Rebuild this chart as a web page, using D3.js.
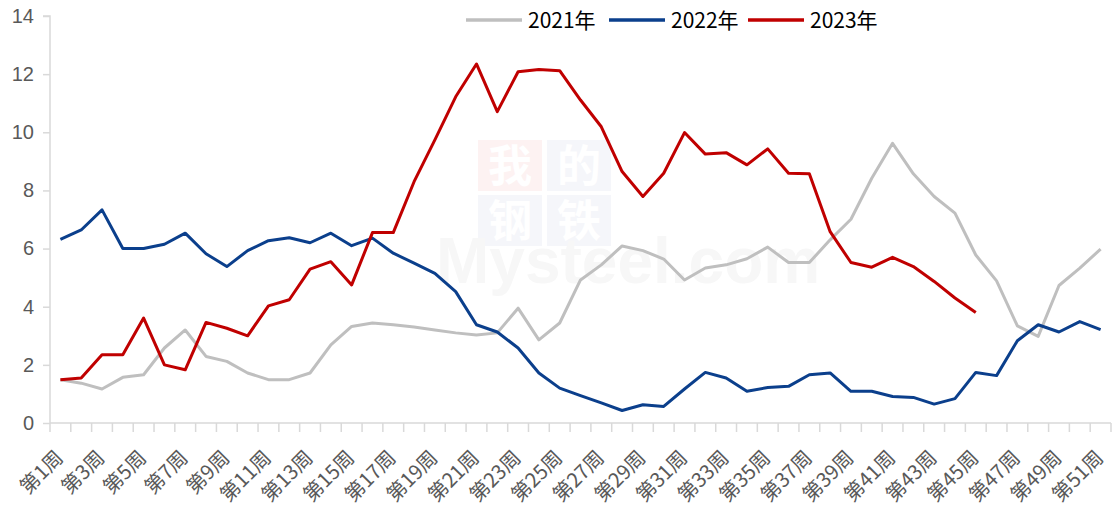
<!DOCTYPE html>
<html>
<head>
<meta charset="utf-8">
<script src="https://cdn.jsdelivr.net/npm/d3@7"></script>
<style>
    body { margin: 0; background: #fff; }
    svg { display: block; font-family: "Noto Sans CJK SC", "Noto Sans", sans-serif; }
</style>
</head>
<body>
<div id="chart"></div>
<script>
var weeks = ["第1周","第2周","第3周","第4周","第5周","第6周","第7周","第8周","第9周","第10周",
    "第11周","第12周","第13周","第14周","第15周","第16周","第17周","第18周","第19周","第20周",
    "第21周","第22周","第23周","第24周","第25周","第26周","第27周","第28周","第29周","第30周",
    "第31周","第32周","第33周","第34周","第35周","第36周","第37周","第38周","第39周","第40周",
    "第41周","第42周","第43周","第44周","第45周","第46周","第47周","第48周","第49周","第50周","第51周"];

var y2021 = [1.49, 1.37, 1.17, 1.57, 1.66, 2.58, 3.2, 2.29, 2.12, 1.72, 1.49, 1.49, 1.72, 2.69, 3.32, 3.44,
    3.38, 3.3, 3.2, 3.1, 3.03, 3.1, 3.95, 2.86, 3.44, 4.92, 5.44, 6.09, 5.93, 5.64, 4.92, 5.33, 5.44,
    5.65, 6.05, 5.52, 5.52, 6.3, 7.01, 8.42, 9.62, 8.57, 7.79, 7.22, 5.78, 4.89, 3.34, 2.98, 4.73, 5.33, 5.98];

var y2022 = [6.32, 6.64, 7.33, 6.0, 6.0, 6.15, 6.53, 5.82, 5.38, 5.93, 6.27, 6.37, 6.2, 6.53, 6.1, 6.36,
    5.84, 5.5, 5.15, 4.52, 3.38, 3.13, 2.58, 1.72, 1.2, 0.94, 0.69, 0.43, 0.63, 0.57, 1.17, 1.74, 1.55,
    1.09, 1.22, 1.26, 1.66, 1.72, 1.09, 1.09, 0.91, 0.88, 0.65, 0.84, 1.74, 1.63, 2.83, 3.38, 3.13, 3.49, 3.21];

var y2023 = [1.49, 1.55, 2.35, 2.35, 3.61, 2.0, 1.83, 3.46, 3.26, 3.0, 4.03, 4.24, 5.29, 5.55, 4.75, 6.55,
    6.55, 8.3, 9.74, 11.22, 12.35, 10.71, 12.08, 12.16, 12.12, 11.11, 10.19, 8.65, 7.79, 8.59, 9.99, 9.25, 9.3,
    8.88, 9.43, 8.59, 8.57, 6.58, 5.52, 5.36, 5.7, 5.38, 4.87, 4.3, 3.8];

var seriesNames = ["2021年", "2022年", "2023年"];
var seriesColors = ["#bfbfbf", "#0b3f8c", "#c00000"];
var yTicks = [0, 2, 4, 6, 8, 10, 12, 14];

var width = 1114, height = 508;
var margin = {top: 16, right: 3, bottom: 85, left: 50};

var svg = d3.select("#chart").append("svg")
    .attr("width", width)
    .attr("height", height);

var x = d3.scaleBand()
    .domain(weeks)
    .range([margin.left, width - margin.right])
    .padding(0);

var y = d3.scaleLinear()
    .domain([0, 14])
    .range([height - margin.bottom, margin.top]);

// watermark (very faint, sits behind everything)
var wm = svg.append("g").attr("class", "watermark");
var cells = [
    {t: "我", cx: 0, cy: 0, bg: "#fdf2f2"},
    {t: "的", cx: 1, cy: 0, bg: "#f5f6fa"},
    {t: "钢", cx: 0, cy: 1, bg: "#f5f6fa"},
    {t: "铁", cx: 1, cy: 1, bg: "#f5f6fa"}
];
cells.forEach(function(c) {
    wm.append("rect")
        .attr("x", 478 + c.cx * 69).attr("y", 140 + c.cy * 55)
        .attr("width", 64).attr("height", 51)
        .attr("fill", c.bg);
});
wm.append("text")
    .attr("x", 436).attr("y", 283)
    .style("font-family", "Arial, 'Liberation Sans', sans-serif")
    .style("font-size", "64px")
    .style("font-weight", "bold")
    .attr("fill", "#f7f7f7")
    .text("Mysteel.com");
cells.forEach(function(c) {
    wm.append("text")
        .attr("x", 510 + c.cx * 69).attr("y", 182 + c.cy * 55)
        .attr("text-anchor", "middle")
        .style("font-size", "44px")
        .style("font-weight", "bold")
        .attr("fill", "#ffffff")
        .text(c.t);
});

// y axis
var yAxis = svg.append("g")
    .attr("transform", "translate(" + margin.left + ",0)")
    .call(d3.axisLeft(y).tickValues(yTicks).tickSize(7).tickPadding(9));
yAxis.select(".domain").attr("stroke", "#d9d9d9").attr("stroke-width", 1.5)
    .attr("d", "M-7," + y(14) + "H0V" + y(0));
yAxis.selectAll(".tick line").attr("stroke", "#d9d9d9").attr("stroke-width", 1.5);
yAxis.selectAll(".tick text")
    .style("font-size", "20px")
    .attr("fill", "#595959");

// x axis
var xAxis = svg.append("g")
    .attr("transform", "translate(0," + y(0) + ")");
xAxis.append("line")
    .attr("x1", margin.left).attr("x2", width - margin.right)
    .attr("stroke", "#d9d9d9").attr("stroke-width", 1.5);
var edges = weeks.map(function(w) { return x(w); }).concat([x(weeks[weeks.length - 1]) + x.bandwidth()]);
xAxis.selectAll(".xtick")
    .data(edges)
    .enter().append("line")
    .attr("class", "xtick")
    .attr("x1", function(d) { return d; })
    .attr("x2", function(d) { return d; })
    .attr("y1", 0).attr("y2", 9)
    .attr("stroke", "#d9d9d9").attr("stroke-width", 1.5);
xAxis.selectAll(".xlabel")
    .data(weeks.filter(function(d, i) { return i % 2 === 0; }))
    .enter().append("text")
    .attr("class", "xlabel")
    .attr("text-anchor", "end")
    .attr("transform", function(d) {
        return "translate(" + (x(d) + x.bandwidth() / 2 + 4) + ",36) rotate(-45)";
    })
    .style("font-size", "20px")
    .attr("fill", "#595959")
    .text(function(d) { return d; });

// lines
var line = d3.line()
    .x(function(d, i) { return x(weeks[i]) + x.bandwidth() / 2; })
    .y(function(d) { return y(d); });

[y2021, y2022, y2023].forEach(function(s, k) {
    svg.append("path")
        .datum(s)
        .attr("fill", "none")
        .attr("stroke", seriesColors[k])
        .attr("stroke-width", 3)
        .attr("stroke-linejoin", "round")
        .attr("d", line);
});

// legend
var legendX = [466, 609, 748];
var legend = svg.append("g").attr("class", "legend");
seriesNames.forEach(function(name, k) {
    legend.append("line")
        .attr("x1", legendX[k]).attr("x2", legendX[k] + 56)
        .attr("y1", 20).attr("y2", 20)
        .attr("stroke", seriesColors[k])
        .attr("stroke-width", 3.5);
    legend.append("text")
        .attr("x", legendX[k] + 62).attr("y", 28)
        .style("font-size", "21px")
        .attr("fill", "#000")
        .text(name);
});
</script>
</body>
</html>
